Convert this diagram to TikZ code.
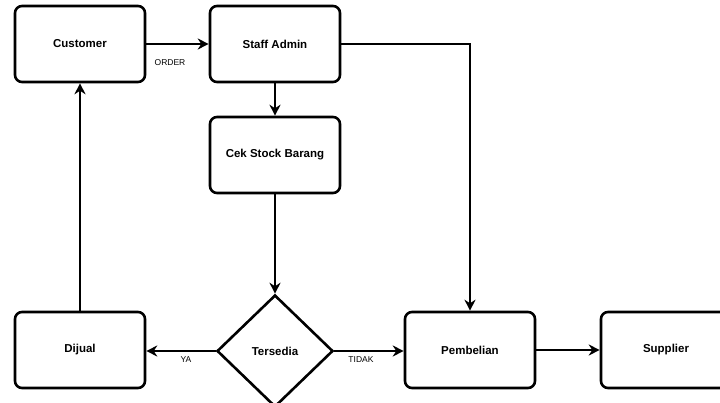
\documentclass[tikz,border=0pt]{standalone}
\usepackage{fontspec}
\setmainfont{Liberation Sans}
\usetikzlibrary{shapes.geometric,arrows.meta}
\begin{document}
\begin{tikzpicture}[x=1pt,y=1pt,
	box/.style={rectangle,draw,rounded corners=7pt,line width=2.6pt,minimum width=130pt,minimum height=76pt,font=\fontsize{11.5}{13}\selectfont\bfseries},
	decision/.style={diamond,draw,line width=2.6pt,minimum width=116pt,minimum height=112pt,inner sep=0pt,font=\fontsize{11.5}{13}\selectfont\bfseries},
	flow/.style={line width=1.8pt,-{Stealth[length=11pt,width=11pt]}},
	lbl/.style={font=\fontsize{8.5}{10}\selectfont}]
\useasboundingbox (0,0) rectangle (720,-403);
\node[box] (customer) at (80,-44) {Customer};
\node[box] (admin) at (275,-44) {Staff Admin};
\node[box] (cek) at (275,-155) {Cek Stock Barang};
\node[decision] (tersedia) at (275,-351) {Tersedia};
\node[box] (dijual) at (80,-350) {Dijual};
\node[box] (beli) at (470,-350) {Pembelian};
\node[box] (supplier) at (666,-350) {Supplier};
\draw[flow] (customer) -- (admin);
\node[lbl] (order) at (170,-63) {ORDER};
\draw[flow] (admin) -- (cek);
\draw[flow] (cek) -- (tersedia);
\draw[flow] (tersedia.west) -- (dijual.east |- tersedia.west);
\node[lbl] (ya) at (186,-360) {YA};
\draw[flow] (tersedia.east) -- (beli.west |- tersedia.east);
\node[lbl] (tidak) at (361,-360) {TIDAK};
\draw[flow] (admin.east) -| (beli.north);
\draw[flow] (beli) -- (supplier);
\draw[flow] (dijual) -- (customer);
\end{tikzpicture}
\end{document}
